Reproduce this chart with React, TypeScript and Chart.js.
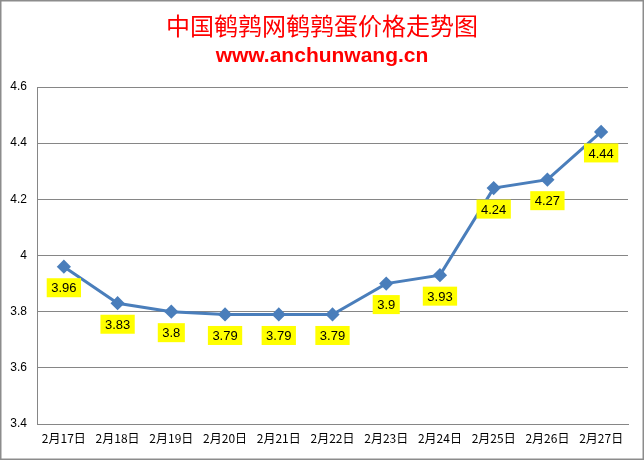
import { useEffect, useRef } from 'react';
import { Chart, registerables } from 'chart.js';

Chart.register(...registerables);

const titleText = '中国鹌鹑网鹌鹑蛋价格走势图';
const subtitleText = 'www.anchunwang.cn';

const dates = ['2月17日', '2月18日', '2月19日', '2月20日', '2月21日', '2月22日', '2月23日', '2月24日', '2月25日', '2月26日', '2月27日'];
const prices = [3.96, 3.83, 3.8, 3.79, 3.79, 3.79, 3.9, 3.93, 4.24, 4.27, 4.44];

const yMin = 3.4;
const yMax = 4.6;
const yStep = 0.2;

const lineColor = '#4a7ebb';
const numFont = '"Liberation Sans", "Noto Sans", sans-serif';
const cjkFont = '"Noto Sans CJK SC", sans-serif';

// title, subtitle, outer frame
const headerPlugin = {
  id: 'header',
  beforeDraw(chart: Chart) {
    const ctx = chart.ctx;
    ctx.save();
    ctx.fillStyle = '#ffffff';
    ctx.fillRect(0, 0, chart.width, chart.height);
    ctx.restore();
  },
  afterDraw(chart: Chart) {
    const ctx = chart.ctx;
    const cx = chart.width / 2;
    ctx.save();
    ctx.fillStyle = '#ff0000';
    ctx.textAlign = 'center';
    ctx.textBaseline = 'middle';
    ctx.font = '24px ' + cjkFont;
    ctx.fillText(titleText, cx, 26);
    ctx.font = 'bold 21px ' + numFont;
    ctx.fillText(subtitleText, cx, 56);
    ctx.strokeStyle = '#8c8c8c';
    ctx.lineWidth = 1.5;
    ctx.strokeRect(0.75, 0.75, chart.width - 1.5, chart.height - 1.5);
    ctx.restore();
  },
};

// yellow value boxes under each point
const valueBoxPlugin = {
  id: 'valueBoxes',
  afterDatasetsDraw(chart: Chart) {
    const ctx = chart.ctx;
    const meta = chart.getDatasetMeta(0);
    ctx.save();
    ctx.font = '13px ' + numFont;
    ctx.textAlign = 'center';
    ctx.textBaseline = 'middle';
    meta.data.forEach((pt, i) => {
      const text = String(prices[i]);
      const w = ctx.measureText(text).width + 9;
      const h = 19;
      const x = pt.x;
      const y = pt.y + 21;
      ctx.fillStyle = '#ffff00';
      ctx.fillRect(x - w / 2, y - h / 2, w, h);
      ctx.fillStyle = '#000000';
      ctx.fillText(text, x, y + 1);
    });
    ctx.restore();
  },
};

export default function App() {
  const canvasRef = useRef<HTMLCanvasElement>(null);

  useEffect(() => {
    const canvas = canvasRef.current;
    if (!canvas) return;
    const chart = new Chart(canvas, {
      type: 'line',
      data: {
        labels: dates,
        datasets: [{
          data: prices,
          borderColor: lineColor,
          backgroundColor: lineColor,
          borderWidth: 3,
          pointStyle: 'rectRot',
          pointRadius: 5,
          pointHoverRadius: 5,
          tension: 0,
        }],
      },
      options: {
        animation: false,
        responsive: false,
        maintainAspectRatio: false,
        layout: { padding: { top: 87, right: 16, left: 0, bottom: 0 } },
        plugins: {
          legend: { display: false },
          title: { display: false },
          tooltip: { enabled: false },
        },
        scales: {
          x: {
            offset: true,
            grid: { display: false, drawTicks: false },
            border: { display: true, color: '#868686' },
            ticks: {
              color: '#000',
              font: { size: 12, family: cjkFont },
              padding: 7,
              maxRotation: 0,
              autoSkip: false,
            },
            afterFit(scale) { scale.height = 36; },
          },
          y: {
            min: yMin,
            max: yMax,
            grid: { color: '#868686', drawTicks: false },
            border: { display: true, color: '#868686' },
            ticks: {
              stepSize: yStep,
              color: '#000',
              font: { size: 12, family: numFont },
              padding: 10,
              callback: (v) => String(Math.round(Number(v) * 10) / 10),
            },
            afterFit(scale) { scale.width = 37; },
          },
        },
      },
      plugins: [headerPlugin, valueBoxPlugin],
    });
    return () => {
      chart.destroy();
    };
  }, []);

  return (
    <div style={{ position: 'fixed', left: 0, top: 0, width: 644, height: 460 }}>
      <canvas ref={canvasRef} width={644} height={460} style={{ width: 644, height: 460 }} />
    </div>
  );
}
